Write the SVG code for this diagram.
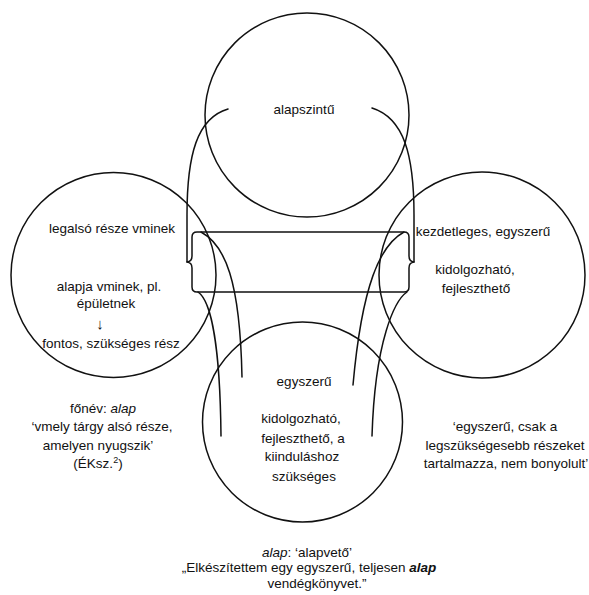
<svg xmlns="http://www.w3.org/2000/svg" width="589" height="595" viewBox="0 0 589 595">
<style>
.c{fill:none;stroke:#111;stroke-width:1.5}
.k{fill:none;stroke:#111;stroke-width:1.5;stroke-linecap:round;stroke-linejoin:round}
text{font-family:"Liberation Sans",Arial,sans-serif;font-size:13.5px;fill:#111;text-anchor:middle}
.i{font-style:italic}
.bi{font-style:italic;font-weight:bold}
</style>
<rect width="589" height="595" fill="#fff"/>
<g id="connectors">
<path class="k" d="M197,232 H404 Q409,232 409,237 V256 Q409,261.5 414,262 Q409,262.5 409,268 V287 Q409,292 404,292 H197 Q192,292 192,287 V268 Q192,262.5 187,262 Q192,261.5 192,256 V237 Q192,232 197,232 Z"/>
<path class="k" d="M187,262 L187,215 C187,155 197,118 228,109"/>
<path class="k" d="M414,262 L414,215 C414,155 404,118 372,108"/>
<path class="k" d="M201,232 C225,245 240,280 242,377"/>
<path class="k" d="M198,292 C210,300 220,340 221,436"/>
<path class="k" d="M404,232 C380,245 362,285 353,385"/>
<path class="k" d="M407,292 C395,300 375,340 372,436"/>
</g>
<g id="node-top">
<circle class="c" cx="307" cy="115" r="102"/>
<text x="304" y="114">alapszintű</text>
</g>
<g id="node-left">
<circle class="c" cx="113.5" cy="275" r="102.5"/>
<text x="112" y="233">legalsó része vminek</text>
<text x="109" y="291">alapja vminek, pl.</text>
<text x="106" y="308">épületnek</text>
<text x="100" y="329" style="font-size:15px">↓</text>
<text x="111" y="348">fontos, szükséges rész</text>
</g>
<g id="node-right">
<circle class="c" cx="482" cy="275" r="103"/>
<text x="483" y="236">kezdetleges, egyszerű</text>
<text x="475" y="274">kidolgozható,</text>
<text x="476" y="293">fejleszthető</text>
</g>
<g id="node-bottom">
<circle class="c" cx="302.5" cy="422" r="100"/>
<text x="304" y="386">egyszerű</text>
<text x="301" y="423">kidolgozható,</text>
<text x="303" y="443">fejleszthető, a</text>
<text x="302" y="461">kiinduláshoz</text>
<text x="304" y="481">szükséges</text>
</g>
<g id="note-left">
<text x="103" y="413">főnév: <tspan class="i">alap</tspan></text>
<text x="102" y="431">‘vmely tárgy alsó része,</text>
<text x="98" y="450">amelyen nyugszik’</text>
<text x="98" y="468">(ÉKsz.<tspan font-size="9" dy="-5">2</tspan><tspan dy="5">)</tspan></text>
</g>
<g id="note-right">
<text x="505" y="431">‘egyszerű, csak a</text>
<text x="505" y="450">legszükségesebb részeket</text>
<text x="506" y="468">tartalmazza, nem bonyolult’</text>
</g>
<g id="note-bottom">
<text x="307" y="556.5"><tspan class="i">alap</tspan>: ‘alapvető’</text>
<text x="309" y="572">„Elkészítettem egy egyszerű, teljesen <tspan class="bi">alap</tspan></text>
<text x="317" y="587.5">vendégkönyvet.”</text>
</g>
</svg>
